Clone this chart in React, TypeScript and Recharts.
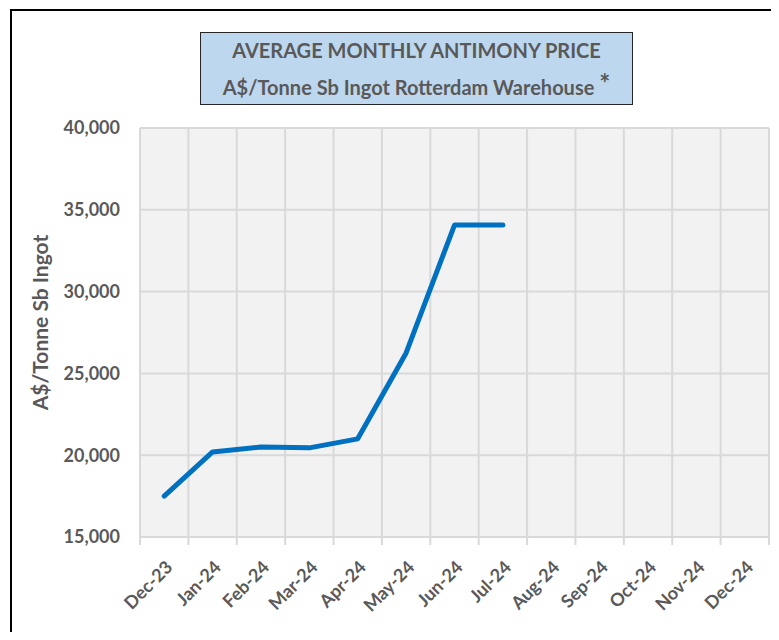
import React from 'react';
import { LineChart, Line, XAxis, YAxis, CartesianGrid, Label } from 'recharts';

const months = [
  'Dec-23', 'Jan-24', 'Feb-24', 'Mar-24', 'Apr-24', 'May-24', 'Jun-24',
  'Jul-24', 'Aug-24', 'Sep-24', 'Oct-24', 'Nov-24', 'Dec-24'
];

// A$/tonne (no data yet from Aug-24 on)
const prices: (number | null)[] = [
  17500, 20200, 20500, 20450, 21000, 26250, 34070, 34070,
  null, null, null, null, null
];

const yTicks = [15000, 20000, 25000, 30000, 35000, 40000];

const data = months.map((m, i) => ({ idx: i, month: m, price: prices[i] ?? null }));

// category boundaries, for the vertical grid and the tick marks
const bounds = [...months.map((_, i) => i - 0.5), months.length - 0.5];
const centres = months.map((_, i) => i);

const GREY = '#595959';
const GRID = '#d9d9d9';
const FONT = 'Lato, "Open Sans", sans-serif';

const NoTick = () => <g />;

const MonthTick = ({ x, y, payload }: any) => (
  <g transform={`translate(${x},${y})`}>
    <text
      transform="translate(5,18) rotate(-45)"
      textAnchor="end"
      dy="0.35em"
      fill={GREY}
      fontSize={18}
      fontWeight={700}
      fontFamily={FONT}
    >
      {months[payload.value]}
    </text>
  </g>
);

const YTitle = ({ viewBox }: any) => {
  const cx = viewBox.x + 29;
  const cy = viewBox.y + viewBox.height / 2 - 10;
  return (
    <text
      x={cx}
      y={cy}
      transform={`rotate(-90, ${cx}, ${cy})`}
      textAnchor="middle"
      dominantBaseline="central"
      fill={GREY}
      fontSize={21}
      fontWeight={700}
      fontFamily={FONT}
    >
      A$/Tonne Sb Ingot
    </text>
  );
};

export default function App() {
  return (
    <div
      style={{
        position: 'relative',
        width: 779,
        height: 640,
        margin: -8,
        overflow: 'hidden',
        background: '#fff',
        fontFamily: FONT
      }}
    >
      <div
        style={{
          position: 'absolute',
          left: 10,
          top: 9,
          width: 820,
          height: 700,
          border: '2px solid #000'
        }}
      />
      <LineChart
        width={779}
        height={640}
        data={data}
        margin={{ top: 128, right: 10, left: 10, bottom: 101 }}
        style={{ position: 'absolute', left: 0, top: 0 }}
      >
        <CartesianGrid
          xAxisId="grid"
          stroke={GRID}
          strokeWidth={2}
          fill="#f2f2f2"
          fillOpacity={1}
        />
        <XAxis
          xAxisId="grid"
          type="number"
          dataKey="idx"
          domain={[-0.5, 12.5]}
          ticks={bounds}
          interval={0}
          allowDataOverflow
          tick={<NoTick />}
          tickSize={8}
          tickLine={{ stroke: GRID, strokeWidth: 2 }}
          axisLine={{ stroke: GRID, strokeWidth: 2 }}
          height={1}
        />
        <XAxis
          xAxisId="lab"
          type="number"
          dataKey="idx"
          domain={[-0.5, 12.5]}
          ticks={centres}
          interval={0}
          allowDataOverflow
          tick={<MonthTick />}
          tickLine={false}
          axisLine={false}
          height={1}
        />
        <YAxis
          type="number"
          domain={[15000, 40000]}
          ticks={yTicks}
          interval={0}
          allowDataOverflow
          width={130}
          axisLine={false}
          tickLine={false}
          tickSize={0}
          tickMargin={20}
          tickFormatter={(v: number) => v.toLocaleString('en-US')}
          tick={{ fill: GREY, fontSize: 18, fontWeight: 700, fontFamily: FONT }}
        >
          <Label content={<YTitle />} />
        </YAxis>
        <Line
          xAxisId="lab"
          type="linear"
          dataKey="price"
          stroke="#0070C0"
          strokeWidth={5}
          strokeLinecap="round"
          strokeLinejoin="round"
          dot={false}
          activeDot={false}
          isAnimationActive={false}
        />
      </LineChart>
      {/* page caption above the framed chart, mostly cut off by the crop */}
      <svg
        width={779}
        height={8}
        style={{ position: 'absolute', left: 0, top: 0, display: 'block' }}
      >
        <text
          x={12}
          y={10}
          textLength={626}
          lengthAdjust="spacingAndGlyphs"
          fontFamily='"Liberation Sans", Arial, sans-serif'
          fontWeight={700}
          fontSize={25}
          fill="#000"
        >
          Graph 1 – Increase in Antimony Price in CY2024
        </text>
      </svg>
      <div
        style={{
          position: 'absolute',
          left: 200,
          top: 32,
          width: 433,
          height: 73,
          boxSizing: 'border-box',
          background: '#bdd7ee',
          border: '1.5px solid #262626',
          color: GREY,
          fontWeight: 700,
          fontSize: 20,
          lineHeight: '35px',
          textAlign: 'center',
          whiteSpace: 'nowrap'
        }}
      >
        <div>AVERAGE MONTHLY ANTIMONY PRICE</div>
        <div>
          A$/Tonne Sb Ingot Rotterdam Warehouse{' '}
          <span style={{ fontSize: 26, position: 'relative', top: -2 }}>*</span>
        </div>
      </div>
    </div>
  );
}
